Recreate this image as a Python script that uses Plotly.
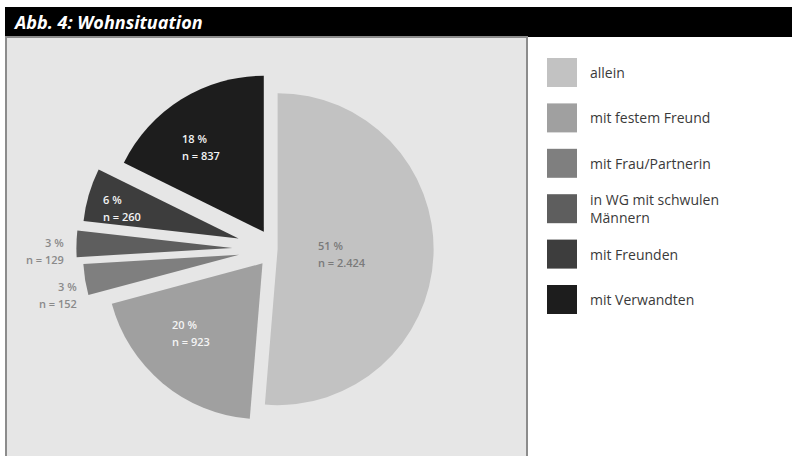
import math
import plotly.graph_objects as go

# Living situation (Wohnsituation), counts per group
labels = ["allein", "mit festem Freund", "mit Frau/Partnerin",
          "in WG mit schwulen<br>Männern", "mit Freunden", "mit Verwandten"]
counts = [2424, 923, 152, 129, 260, 837]
colors = ["#c2c2c2", "#a0a0a0", "#7f7f7f", "#5e5e5e", "#3d3d3d", "#1d1d1d"]
pulls = [0.02, 0.12, 0.23, 0.27, 0.24, 0.13]

# label styling per slice: radial distance (fraction of radius), colour, anchor, vertical nudge
label_rho = [0.48, 0.72, 1.27, 1.336, 0.94, 0.745]
label_color = ["#7a7a7a", "#f4f4f4", "#8a8a8a", "#8a8a8a", "#f4f4f4", "#f4f4f4"]
label_anchor = ["center", "center", "right", "right", "center", "center"]
label_dy = [2, -2, 14, 7, 0, -3]

W, H = 792, 456
CX, CY = 274.5, 249.0          # pie centre in pixels
R = 156.0                      # pie radius in pixels
box = 2 * R * (1 + max(pulls))  # plotly shrinks r by (1 + max pull)


def px(x):
    return x / W


def py(y):
    return 1 - y / H


total = sum(counts)
pct = [round(c / total * 100) for c in counts]

fig = go.Figure()
fig.add_trace(go.Pie(
    labels=labels, values=counts, sort=False, direction="clockwise", rotation=0,
    pull=pulls, marker=dict(colors=colors, line=dict(width=0)),
    textinfo="none", hoverinfo="label+value+percent", showlegend=False,
    domain=dict(x=[px(CX - box / 2), px(CX + box / 2)],
                y=[py(CY + box / 2), py(CY - box / 2)]),
))

shapes = [
    # title bar
    dict(type="rect", xref="paper", yref="paper", x0=px(5), x1=px(W), y0=py(37), y1=py(7),
         fillcolor="#000000", line=dict(width=0), layer="below"),
    # chart panel
    dict(type="rect", xref="paper", yref="paper", x0=px(6), x1=px(527), y0=py(460), y1=py(37),
         fillcolor="#e6e6e6", line=dict(color="#8c8c8c", width=2), layer="below"),
]

annotations = [
    dict(text="<b><i>Abb. 4: Wohnsituation</i></b>", x=px(11), y=py(22), xref="paper", yref="paper",
         xanchor="left", yanchor="middle", showarrow=False,
         font=dict(family="Open Sans", size=18, color="#ffffff")),
]

# slice labels, placed along each slice's bisector
cum = 0.0
for i, c in enumerate(counts):
    mid = (cum + c / 2) / total * 2 * math.pi
    cum += c
    dx, dy = math.sin(mid), -math.cos(mid)
    x = CX + label_rho[i] * R * dx
    y = CY + label_rho[i] * R * dy + label_dy[i]
    n_txt = f"{c:,}".replace(",", ".")
    for line, off in ((f"{pct[i]} %", -8.5), (f"n = {n_txt}", 8.5)):
        annotations.append(dict(
            text=line, x=px(x), y=py(y + off), xref="paper", yref="paper",
            xanchor=label_anchor[i], yanchor="middle", showarrow=False,
            width=62 if label_anchor[i] == "center" else None,
            align="left" if label_anchor[i] == "center" else "right",
            font=dict(family="Open Sans", size=11, color=label_color[i], weight=600),
        ))

# legend: swatches and names
for i, name in enumerate(labels):
    yc = 72.5 + i * 45.4
    shapes.append(dict(type="rect", xref="paper", yref="paper",
                       x0=px(547), x1=px(577), y0=py(yc + 14.5), y1=py(yc - 14.5),
                       fillcolor=colors[i], line=dict(width=0)))
    annotations.append(dict(text=name, x=px(588), y=py(yc), xref="paper", yref="paper",
                            xanchor="left", yanchor="middle", align="left", showarrow=False,
                            font=dict(family="Open Sans", size=14, color="#3a3a3a")))

fig.update_layout(
    width=W, height=H, margin=dict(l=0, r=0, t=0, b=0),
    paper_bgcolor="#ffffff", plot_bgcolor="#ffffff",
    shapes=shapes, annotations=annotations,
)
fig.write_html("out.html")
